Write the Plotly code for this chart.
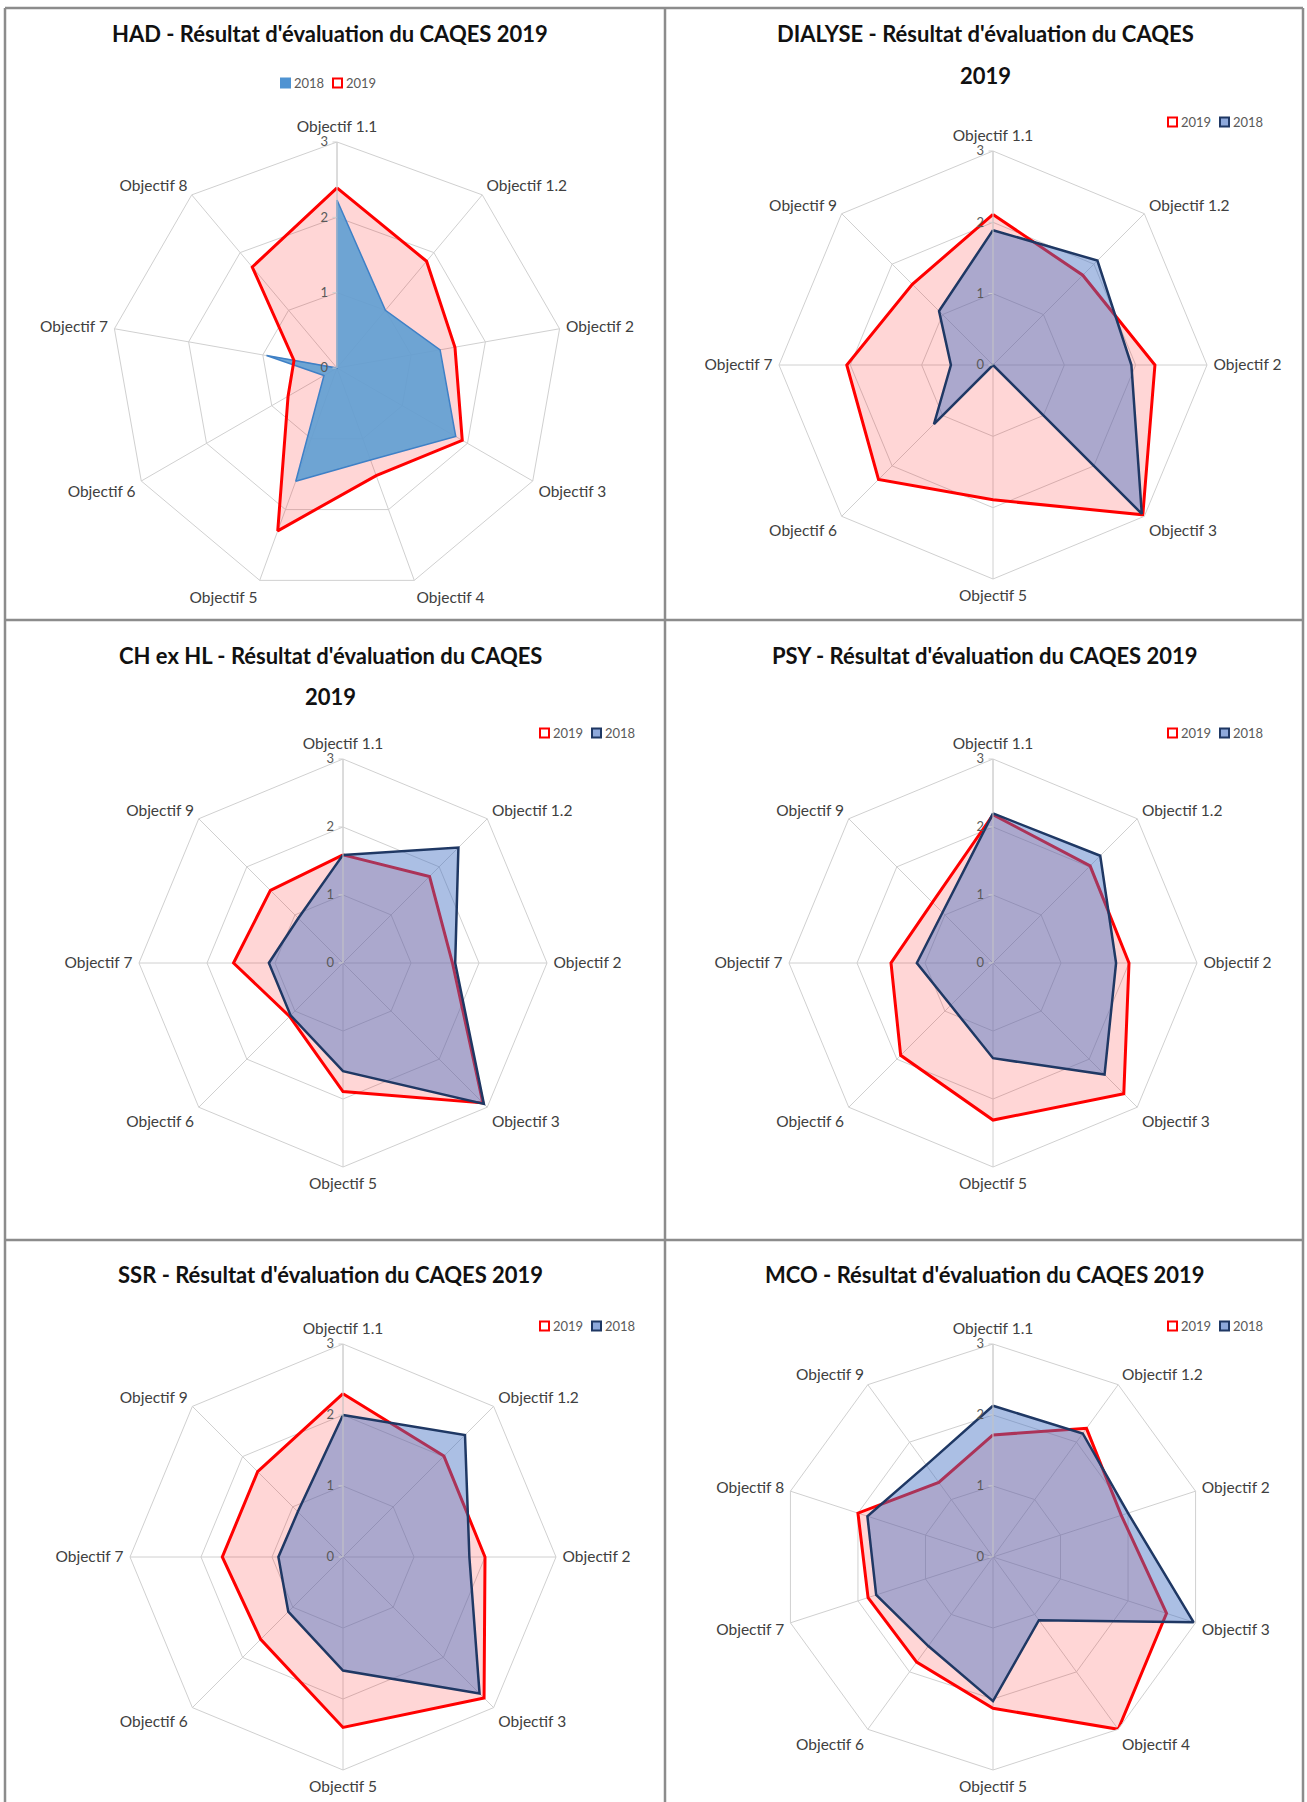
import plotly.graph_objects as go

W, H = 1307, 1802

# ---- data -------------------------------------------------------------
series_names = ["2018", "2019"]

had_categories = ["Objectif 1.1", "Objectif 1.2", "Objectif 2", "Objectif 3", "Objectif 4",
                  "Objectif 5", "Objectif 6", "Objectif 7", "Objectif 8"]
had_2019 = [2.39, 1.85, 1.59, 1.92, 1.52, 2.30, 0.75, 0.58, 1.75]
had_2018 = [2.23, 1.00, 1.39, 1.82, 1.30, 1.60, 0.20, 0.95, 0.00]

eight_categories = ["Objectif 1.1", "Objectif 1.2", "Objectif 2", "Objectif 3",
                    "Objectif 5", "Objectif 6", "Objectif 7", "Objectif 9"]

dialyse_2019 = [2.11, 1.78, 2.27, 2.97, 1.89, 2.27, 2.05, 1.60]
dialyse_2018 = [1.89, 2.07, 1.94, 2.95, 0.00, 1.17, 0.59, 1.07]

chexhl_2019 = [1.59, 1.80, 1.61, 2.91, 1.89, 1.11, 1.61, 1.51]
chexhl_2018 = [1.59, 2.40, 1.65, 2.93, 1.59, 1.09, 1.09, 0.93]

psy_2019 = [2.18, 2.02, 2.00, 2.72, 2.31, 1.92, 1.50, 1.26]
psy_2018 = [2.20, 2.23, 1.81, 2.32, 1.40, 0.88, 1.12, 1.05]

ssr_2019 = [2.30, 2.01, 2.00, 2.81, 2.40, 1.64, 1.70, 1.70]
ssr_2018 = [2.00, 2.43, 1.78, 2.72, 1.60, 1.09, 0.91, 0.90]

mco_categories = ["Objectif 1.1", "Objectif 1.2", "Objectif 2", "Objectif 3", "Objectif 4",
                  "Objectif 5", "Objectif 6", "Objectif 7", "Objectif 8", "Objectif 9"]
mco_2019 = [1.72, 2.24, 1.90, 2.57, 3.00, 2.13, 1.83, 1.85, 2.00, 1.30]
mco_2018 = [2.13, 2.15, 2.00, 2.97, 1.10, 2.03, 1.55, 1.73, 1.86, 1.60]

radial_ticks = [0, 1, 2, 3]

# ---- styling ----------------------------------------------------------
FONT = "Lato"
GRID = "#D0D0D0"
RED = "#FF0000"
PINK = "rgba(255,0,0,0.16)"
NAVY = "#1F3864"
BLUE_FILL = "rgba(68,114,196,0.45)"
BLUE_LEGEND = "#8EA9DB"
HAD_BLUE = "rgba(98,160,210,0.92)"
HAD_BLUE_LINE = "#3F80C6"
BORDER = "#8C8C8C"

panels = [
    dict(title=["HAD - Résultat d'évaluation du CAQES 2019"], title_y=[34], title_x=330,
         cats=had_categories, s2019=had_2019, s2018=had_2018,
         center=(337, 368), R=226, had=True, legend=(281, 83)),
    dict(title=["DIALYSE - Résultat d'évaluation du CAQES", "2019"], title_y=[34, 75], title_x=985,
         cats=eight_categories, s2019=dialyse_2019, s2018=dialyse_2018,
         center=(993, 365), R=214, had=False, legend=(1168, 122)),
    dict(title=["CH ex HL - Résultat d'évaluation du CAQES", "2019"], title_y=[655, 696], title_x=330,
         cats=eight_categories, s2019=chexhl_2019, s2018=chexhl_2018,
         center=(343, 963), R=204, had=False, legend=(540, 733)),
    dict(title=["PSY - Résultat d'évaluation du CAQES 2019"], title_y=[655], title_x=985,
         cats=eight_categories, s2019=psy_2019, s2018=psy_2018,
         center=(993, 963), R=204, had=False, legend=(1168, 733)),
    dict(title=["SSR - Résultat d'évaluation du CAQES 2019"], title_y=[1274], title_x=330,
         cats=eight_categories, s2019=ssr_2019, s2018=ssr_2018,
         center=(343, 1557), R=213, had=False, legend=(540, 1326)),
    dict(title=["MCO - Résultat d'évaluation du CAQES 2019"], title_y=[1274], title_x=985,
         cats=mco_categories, s2019=mco_2019, s2018=mco_2018,
         center=(993, 1557), R=213, had=False, legend=(1168, 1326)),
]


def closed(values):
    return list(values) + [values[0]]


def px(x):
    return x / W


def py(y):
    return 1 - y / H


fig = go.Figure()
layout = {}
annotations = []
shapes = []

for i, p in enumerate(panels):
    sub = "polar" if i == 0 else f"polar{i + 1}"
    theta = closed(p["cats"])
    if p["had"]:
        fig.add_trace(go.Scatterpolar(r=closed(p["s2019"]), theta=theta, subplot=sub, mode="lines",
                                      fill="toself", fillcolor=PINK, line=dict(width=0),
                                      showlegend=False, hoverinfo="skip"))
        fig.add_trace(go.Scatterpolar(r=closed(p["s2018"]), theta=theta, subplot=sub, mode="lines",
                                      fill="toself", fillcolor=HAD_BLUE,
                                      line=dict(color=HAD_BLUE_LINE, width=1.5),
                                      name=series_names[0], showlegend=False))
        fig.add_trace(go.Scatterpolar(r=closed(p["s2019"]), theta=theta, subplot=sub, mode="lines",
                                      line=dict(color=RED, width=3),
                                      name=series_names[1], showlegend=False))
    else:
        fig.add_trace(go.Scatterpolar(r=closed(p["s2019"]), theta=theta, subplot=sub, mode="lines",
                                      fill="toself", fillcolor=PINK, line=dict(color=RED, width=3),
                                      name=series_names[1], showlegend=False))
        fig.add_trace(go.Scatterpolar(r=closed(p["s2018"]), theta=theta, subplot=sub, mode="lines",
                                      fill="toself", fillcolor=BLUE_FILL, line=dict(color=NAVY, width=2.5),
                                      name=series_names[0], showlegend=False))

    cx, cy = p["center"]
    R = p["R"]
    layout[sub] = dict(
        domain=dict(x=[px(cx - R), px(cx + R)], y=[py(cy + R), py(cy - R)]),
        bgcolor="white",
        gridshape="linear",
        radialaxis=dict(range=[0, 3], tickvals=radial_ticks, angle=90, tickangle=90,
                        side="counterclockwise", showline=True, linecolor=GRID, linewidth=1,
                        gridcolor=GRID, gridwidth=1, ticks="outside", ticklen=4, tickcolor=GRID,
                        tickfont=dict(family=FONT, size=13, color="#595959")),
        angularaxis=dict(type="category", categoryarray=p["cats"], rotation=90, direction="clockwise",
                         showline=True, linecolor=GRID, linewidth=1, gridcolor=GRID, gridwidth=1,
                         ticks="outside", ticklen=3, tickcolor="rgba(0,0,0,0)",
                         tickfont=dict(family=FONT, size=15.5, color="#404040")),
    )

    # panel title
    for line, ty in zip(p["title"], p["title_y"]):
        annotations.append(dict(text=line, x=px(p["title_x"]), y=py(ty), xref="paper", yref="paper",
                                xanchor="center", yanchor="middle", showarrow=False,
                                font=dict(family=FONT, size=22, color="#111111", weight="bold")))

    # legend keys
    lx, ly = p["legend"]
    order = [series_names[0], series_names[1]] if p["had"] else [series_names[1], series_names[0]]
    for k, name in enumerate(order):
        x0 = lx + k * 52
        if name == series_names[1]:
            fill, edge = "white", RED
        elif p["had"]:
            fill, edge = "#4F93D2", "#4F93D2"
        else:
            fill, edge = BLUE_LEGEND, NAVY
        shapes.append(dict(type="rect", xref="paper", yref="paper",
                           x0=px(x0), x1=px(x0 + 9), y0=py(ly + 4.5), y1=py(ly - 4.5),
                           fillcolor=fill, line=dict(color=edge, width=2)))
        annotations.append(dict(text=name, x=px(x0 + 11), y=py(ly), xref="paper", yref="paper",
                                xanchor="left", yanchor="middle", showarrow=False,
                                font=dict(family=FONT, size=13, color="#595959")))

# panel frame (the sheet runs past the bottom edge)
frame_lines = [
    (5, 8, 1303, 8), (5, 620, 1303, 620), (5, 1240, 1303, 1240),
    (5, 8, 5, 1802), (665, 8, 665, 1802), (1303, 8, 1303, 1802),
]
for x0, y0, x1, y1 in frame_lines:
    shapes.append(dict(type="line", xref="paper", yref="paper", x0=px(x0), y0=py(y0),
                       x1=px(x1), y1=py(y1), line=dict(color=BORDER, width=2.5)))

fig.update_layout(
    width=W, height=H,
    margin=dict(l=0, r=0, t=0, b=0),
    paper_bgcolor="white",
    showlegend=False,
    annotations=annotations,
    shapes=shapes,
    **layout,
)

fig.write_html("out.html")
